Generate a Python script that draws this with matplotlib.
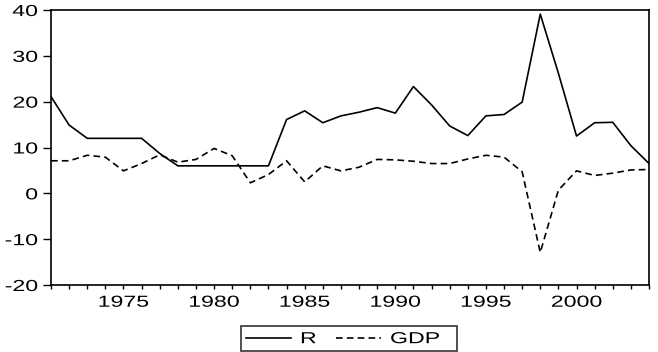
import matplotlib
matplotlib.use("Agg")
import matplotlib.pyplot as plt
from matplotlib.ticker import MultipleLocator
from matplotlib.patheffects import AbstractPathEffect
from matplotlib.transforms import Affine2D

years = list(range(1971, 2005))
R = [21.1, 14.9, 12.0, 12.0, 12.0, 12.0, 8.7, 6.0, 6.0, 6.0, 6.0, 6.0, 6.0,
     16.1, 18.0, 15.4, 16.9, 17.7, 18.7, 17.5, 23.3, 19.3, 14.7, 12.6, 16.9,
     17.2, 19.9, 39.1, 26.2, 12.5, 15.4, 15.5, 10.4, 6.5]
GDP = [7.1, 7.1, 8.3, 7.9, 4.9, 6.5, 8.4, 6.8, 7.4, 9.8, 8.2, 2.3, 4.1, 7.1,
       2.5, 6.0, 4.9, 5.7, 7.4, 7.3, 7.0, 6.5, 6.5, 7.5, 8.3, 7.9, 4.7, -12.9,
       0.7, 4.9, 3.9, 4.4, 5.1, 5.2]
xticks = [1975, 1980, 1985, 1990, 1995, 2000]
yticks = [-20, -10, 0, 10, 20, 30, 40]


class StretchX(AbstractPathEffect):
    """Stretch rendered text horizontally about an anchor of its ink box."""
    def __init__(self, sx=1.45, anchor='center'):
        super().__init__()
        self.sx = sx
        self.anchor = anchor

    def draw_path(self, renderer, gc, tpath, affine, rgbFace=None):
        ext = tpath.get_extents(affine)
        if self.anchor == 'left':
            cx = ext.x0
        elif self.anchor == 'right':
            cx = ext.x1
        else:
            cx = 0.5 * (ext.x0 + ext.x1)
        new = affine + Affine2D().translate(-cx, 0).scale(self.sx, 1).translate(cx, 0)
        renderer.draw_path(gc, tpath, new, rgbFace)


plt.rcParams['font.family'] = ['Liberation Sans', 'DejaVu Sans']
plt.rcParams['axes.unicode_minus'] = False

fig = plt.figure(figsize=(6.58, 3.52), dpi=100)
ax = fig.add_axes([51/658, 1-285/352, (649-51)/658, (285-10)/352])

lr, = ax.plot(years, R, color='black', lw=1.2, label='R')
lg, = ax.plot(years, GDP, color='black', lw=1.2, dashes=(4, 2.5), label='GDP')

ax.set_xlim(1971, 2004)
ax.set_ylim(-20, 40)
ax.set_xticks(xticks)
ax.xaxis.set_minor_locator(MultipleLocator(1))
ax.set_yticks(yticks)
ax.tick_params(axis='both', which='both', direction='out', width=1,
               labelsize=11.5, color='black')
ax.tick_params(axis='x', which='both', length=3, pad=4)
ax.tick_params(axis='y', which='both', length=5.5, pad=4)
for s in ax.spines.values():
    s.set_linewidth(1.2)
    s.set_color('black')

fig.canvas.draw()
for lab in ax.get_xticklabels():
    lab.set_path_effects([StretchX(1.45, 'center')])
for lab in ax.get_yticklabels():
    lab.set_path_effects([StretchX(1.45, 'right')])

leg = fig.legend(handles=[lr, lg], labels=['R', 'GDP      '], loc='center',
                 bbox_to_anchor=(349/658, 1-338.7/352),
                 ncol=2, frameon=True, fancybox=False, edgecolor='black',
                 fontsize=11.5, handlelength=2.8, columnspacing=1.5,
                 handletextpad=0.6, borderpad=0.3, borderaxespad=0)
leg.get_frame().set_linewidth(1.2)
for t in leg.get_texts():
    t.set_path_effects([StretchX(1.45, 'left')])

fig.savefig('out.png', dpi=100)
